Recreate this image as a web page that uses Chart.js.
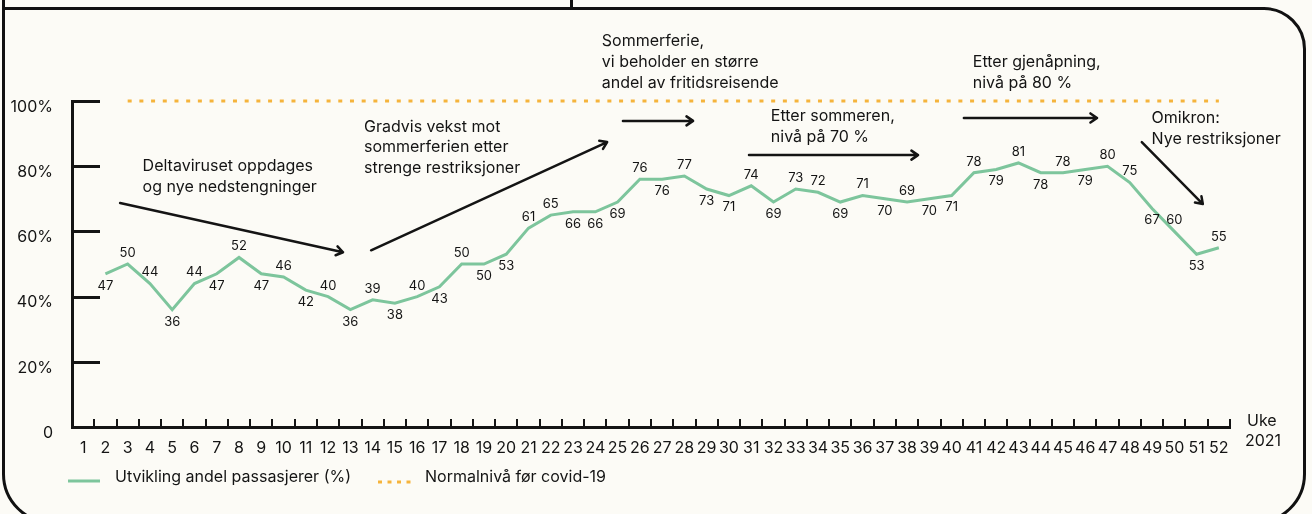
<!DOCTYPE html>
<html>
<head>
<meta charset="utf-8">
<script src="https://cdn.jsdelivr.net/npm/chart.js@4.4.1/dist/chart.umd.min.js"></script>
<style>
    html, body { margin: 0; padding: 0; background: #fcfbf6; overflow: hidden; }
    #wrap { position: relative; width: 1312px; height: 514px; }
    .topbox { position: absolute; left: 2px; top: -20px; width: 571px; height: 30px; box-sizing: border-box; border: 3px solid #111; }
    .frame { position: absolute; left: 2px; top: 7px; width: 1304px; height: 517px; box-sizing: border-box; border: 3px solid #111; border-radius: 0 42px 50px 50px; }
    canvas { position: absolute; left: 0; top: 0; }
</style>
</head>
<body>
<div id="wrap">
    <div class="topbox"></div>
    <div class="frame"></div>
    <canvas id="chart" width="1312" height="514"></canvas>
</div>
<script>
// Data
const weeks = Array.from({ length: 52 }, (_, i) => String(i + 1));
const passengerShare = [null, 47, 50, 44, 36, 44, 47, 52, 47, 46, 42, 40, 36, 39, 38, 40, 43, 50, 50, 53,
    61, 65, 66, 66, 69, 76, 76, 77, 73, 71, 74, 69, 73, 72, 69, 71, 70, 69, 70, 71,
    78, 79, 81, 78, 78, 79, 80, 75, 67, 60, 53, 55];
// a = label above point, b = below
const labelSide = [null, 'b', 'a', 'a', 'b', 'a', 'b', 'a', 'b', 'a', 'b', 'a', 'b', 'a', 'b', 'a', 'b', 'a', 'b', 'b',
    'a', 'a', 'b', 'b', 'b', 'a', 'b', 'a', 'b', 'b', 'a', 'b', 'a', 'a', 'b', 'a', 'b', 'a', 'b', 'b',
    'a', 'b', 'a', 'b', 'a', 'b', 'a', 'a', 'b', 'a', 'b', 'a'];
const normalLevel = [{ x: '3', y: 100 }, { x: '52', y: 100 }];
const yTicks = [0, 20, 40, 60, 80, 100];

const seriesNames = ['Utvikling andel passasjerer (%)', 'Normalnivå før covid-19'];
const green = '#7dc59c';
const orange = '#f5b43c';
const ink = '#141414';

// Annotations in data coordinates (category index, percent)
const notes = [
    { lines: ['Deltaviruset oppdages', 'og nye nedstengninger'], at: [2.67, 80] },
    { lines: ['Gradvis vekst mot', 'sommerferien etter', 'strenge restriksjoner'], at: [12.61, 92.1] },
    { lines: ['Sommerferie,', 'vi beholder en større', 'andel av fritidsreisende'], at: [23.29, 118.2] },
    { lines: ['Etter sommeren,', 'nivå på 70 %'], at: [30.88, 95.2] },
    { lines: ['Etter gjenåpning,', 'nivå på 80 %'], at: [39.95, 111.9] },
    { lines: ['Omikron:', 'Nye restriksjoner'], at: [47.98, 94.7] }
];
const arrows = [
    { from: [1.66, 68.7], to: [11.67, 53.6] },
    { from: [12.93, 54.2], to: [23.53, 87.4] },
    { from: [24.24, 93.9], to: [27.39, 93.9] },
    { from: [29.9, 83.4], to: [37.49, 83.4] },
    { from: [39.55, 94.8], to: [45.53, 94.8] },
    { from: [47.54, 87.4], to: [50.28, 68.4] }
];

Chart.defaults.font.family = 'Inter, "Noto Sans", sans-serif';
Chart.defaults.color = ink;

const decor = {
    id: 'decor',
    afterDraw(chart) {
        const { ctx, chartArea, scales } = chart;
        const x = scales.x, y = scales.y;
        ctx.save();
        ctx.strokeStyle = ink;
        ctx.fillStyle = ink;

        // y tick marks pointing into the plot
        ctx.lineWidth = 3;
        yTicks.forEach(v => {
            if (v === 0) return;
            const py = Math.round(y.getPixelForValue(v)) + 0.5;
            ctx.beginPath();
            ctx.moveTo(chartArea.left, py);
            ctx.lineTo(chartArea.left + 28, py);
            ctx.stroke();
        });

        // x tick marks between weeks
        ctx.lineWidth = 2;
        for (let i = 0; i < weeks.length; i++) {
            const px = Math.round(x.getPixelForValue(i + 0.5));
            ctx.beginPath();
            ctx.moveTo(px, chartArea.bottom);
            ctx.lineTo(px, chartArea.bottom - 8);
            ctx.stroke();
        }

        // value labels
        const meta = chart.getDatasetMeta(0);
        ctx.font = '13px Inter';
        ctx.textAlign = 'center';
        ctx.textBaseline = 'middle';
        passengerShare.forEach((v, i) => {
            if (v === null) return;
            const pt = meta.data[i];
            const dy = labelSide[i] === 'a' ? -11 : 12;
            ctx.fillText(String(v), pt.x, pt.y + dy);
        });

        // annotation texts
        ctx.font = '16px Inter';
        ctx.textAlign = 'left';
        notes.forEach(n => {
            const px = x.getPixelForValue(n.at[0]);
            const py = y.getPixelForValue(n.at[1]);
            n.lines.forEach((line, k) => ctx.fillText(line, px, py + k * 20.8));
        });

        // arrows
        ctx.lineWidth = 2.5;
        ctx.lineCap = 'round';
        ctx.lineJoin = 'round';
        arrows.forEach(a => {
            const x1 = x.getPixelForValue(a.from[0]), y1 = y.getPixelForValue(a.from[1]);
            const x2 = x.getPixelForValue(a.to[0]), y2 = y.getPixelForValue(a.to[1]);
            const ang = Math.atan2(y2 - y1, x2 - x1);
            ctx.beginPath();
            ctx.moveTo(x1, y1);
            ctx.lineTo(x2, y2);
            ctx.moveTo(x2 - 8 * Math.cos(ang - 0.6), y2 - 8 * Math.sin(ang - 0.6));
            ctx.lineTo(x2, y2);
            ctx.lineTo(x2 - 8 * Math.cos(ang + 0.6), y2 - 8 * Math.sin(ang + 0.6));
            ctx.stroke();
        });

        // axis caption
        ctx.font = '16px Inter';
        ctx.fillText('Uke', chartArea.right + 17, chartArea.bottom - 6);
        ctx.fillText('2021', chartArea.right + 15, chartArea.bottom + 14);

        // legend
        const ly = chartArea.bottom + 54;
        ctx.lineCap = 'butt';
        ctx.lineWidth = 3;
        ctx.strokeStyle = green;
        ctx.beginPath();
        ctx.moveTo(68, ly);
        ctx.lineTo(100, ly);
        ctx.stroke();
        ctx.strokeStyle = orange;
        ctx.setLineDash([4, 5.5]);
        ctx.beginPath();
        ctx.moveTo(378, ly + 1);
        ctx.lineTo(411, ly + 1);
        ctx.stroke();
        ctx.setLineDash([]);
        ctx.font = '16px Inter';
        ctx.fillStyle = ink;
        ctx.fillText(seriesNames[0], 115, ly - 4);
        ctx.fillText(seriesNames[1], 425, ly - 4);

        ctx.restore();
    }
};

new Chart(document.getElementById('chart'), {
    type: 'line',
    data: {
        labels: weeks,
        datasets: [
            {
                label: seriesNames[0],
                data: passengerShare,
                borderColor: green,
                borderWidth: 3,
                pointRadius: 0,
                tension: 0,
                clip: false
            },
            {
                label: seriesNames[1],
                data: normalLevel,
                borderColor: orange,
                borderWidth: 3,
                borderDash: [4, 7.7],
                pointRadius: 0,
                clip: false
            }
        ]
    },
    options: {
        responsive: false,
        animation: false,
        layout: { padding: { top: 101, right: 82, bottom: 57, left: 0 } },
        plugins: { legend: { display: false }, tooltip: { enabled: false } },
        scales: {
            x: {
                offset: true,
                grid: { display: false },
                border: { display: true, color: ink, width: 3 },
                ticks: { autoSkip: false, maxRotation: 0, padding: 4, font: { size: 16 } },
                afterFit: s => { s.height = 30; }
            },
            y: {
                min: 0,
                max: 100,
                afterBuildTicks: s => { s.ticks = yTicks.map(v => ({ value: v })); },
                grid: { display: false },
                border: { display: true, color: ink, width: 3 },
                ticks: {
                    padding: 11,
                    labelOffset: 6,
                    font: { size: 16 },
                    callback: v => v === 0 ? '0' : v + '%'
                },
                afterFit: s => { s.width = 72; }
            }
        }
    },
    plugins: [decor]
});
</script>
</body>
</html>
